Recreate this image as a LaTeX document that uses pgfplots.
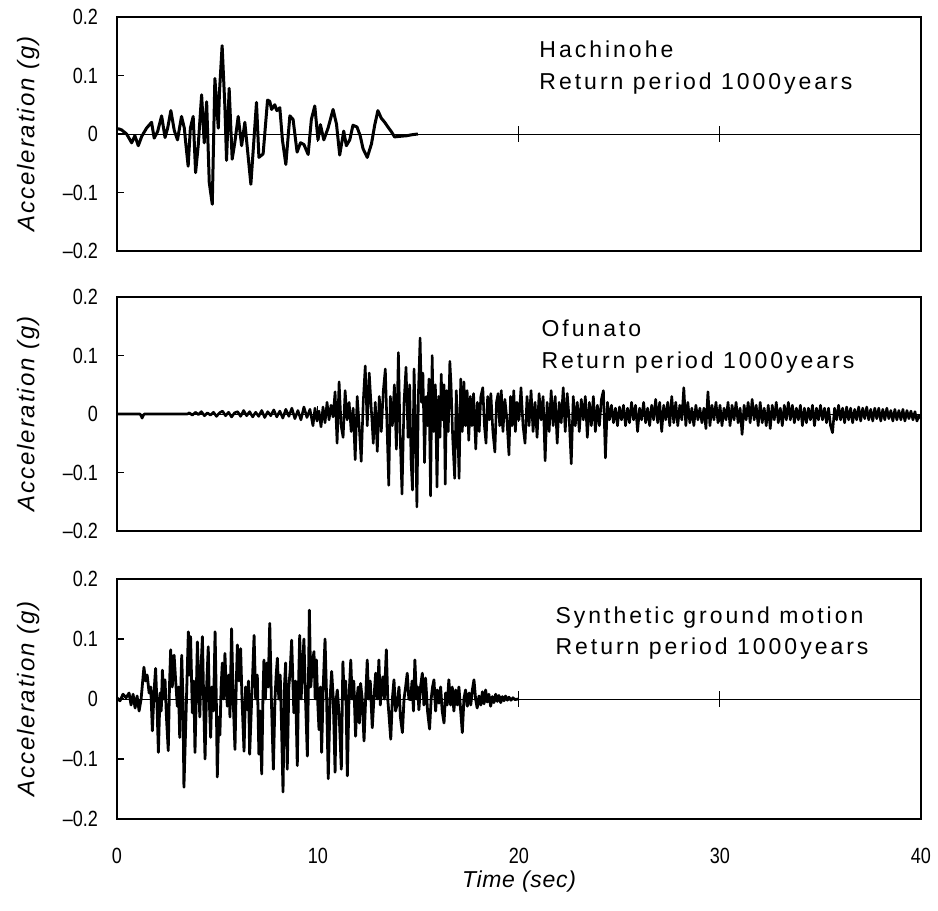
\documentclass[border=0pt]{standalone}
\usepackage{fontspec}
\setmainfont{Liberation Sans}
\newfontfamily\spaced[LetterSpace=13]{Liberation Sans}
\newfontfamily\labfont[LetterSpace=8]{Liberation Sans}
\newfontfamily\xlabfont[LetterSpace=3]{Liberation Sans}
\newfontfamily\narrow[FakeStretch=0.82]{Liberation Sans}
\usepackage{pgfplots}
\pgfplotsset{compat=1.18}
\tikzset{ann/.style={anchor=base west, inner sep=0pt, font=\spaced\fontsize{11.5}{13}\selectfont}}
\pgfplotsset{
  panel/.style={
    scale only axis, width=402pt, height=117pt,
    xmin=0, xmax=40, ymin=-0.2, ymax=0.2,
    axis line style={line width=0.8pt},
    ytick={-0.2,-0.1,0,0.1,0.2},
    yticklabels={–0.2,–0.1,0,0.1,0.2},
    ytick pos=left, tick align=inside, major tick length=3.5pt,
    ytick style={black, line width=0.6pt},
    xtick={0,10,20,30,40}, xtick style={draw=none},
    xticklabels={},
    yticklabel style={font=\narrow\fontsize{11}{13}\selectfont, xshift=-6pt},
    every axis y label/.style={at={(axis description cs:-0.1106,0.5)}, rotate=90, anchor=center,
      font=\labfont\fontsize{12}{14}\selectfont\itshape},
    ylabel={Acceleration (g)},
    clip=false,
  },
  zero/.style={black, line width=0.4pt},
  tk/.style={black, only marks, mark=|, mark size=4pt, mark options={line width=0.5pt}},
}
\begin{document}
\begin{tikzpicture}
% ---------------- Panel 1: Hachinohe
\begin{axis}[panel, at={(0,0)}, anchor=north west]
\addplot[zero] coordinates {(0,0) (40,0)};
\addplot[tk] coordinates {(10,0) (20,0) (30,0)};
\addplot[black, line width=1.5pt, line join=round] coordinates {
(0,0.008) (0.07,0.009) (0.23,0.007) (0.48,0) (0.73,-0.015) (0.89,-0.003) (1.06,-0.02) (1.23,-0.004) (1.47,0.01) (1.72,0.02) (1.85,-0.007) (2.02,0.004) (2.22,0.031) (2.39,-0.006) (2.52,0.01) (2.68,0.04) (2.85,0.006) (3.01,-0.01) (3.21,0.03) (3.35,0.01) (3.41,-0.012) (3.54,-0.055) (3.65,0.01) (3.79,0.03) (3.91,-0.066) (4.04,-0.02) (4.21,0.067) (4.34,-0.015) (4.46,0.055) (4.59,-0.083) (4.74,-0.12) (4.87,0.095) (4.97,0.045) (5.04,0.01) (5.10,0.073) (5.23,0.151) (5.37,0.045) (5.45,-0.045) (5.58,0.078) (5.73,-0.043) (5.86,-0.015) (6.03,0.03) (6.20,-0.02) (6.36,0.02) (6.66,-0.086) (6.94,0.054) (7.06,-0.04) (7.27,-0.034) (7.49,0.058) (7.60,0.056) (7.69,0.042) (7.85,0.05) (7.95,0.04) (8.10,0.045) (8.23,-0.01) (8.40,-0.052) (8.60,0.031) (8.76,0.025) (8.96,-0.031) (9.13,-0.015) (9.30,-0.018) (9.51,-0.035) (9.67,0.025) (9.84,0.048) (10.0,-0.01) (10.12,0.016) (10.29,-0.01) (10.5,0.01) (10.75,0.042) (10.92,0.017) (11.08,-0.036) (11.28,0.005) (11.41,-0.02) (11.58,-0.01) (11.74,0.015) (11.94,0.012) (12.1,-0.003) (12.24,-0.025) (12.45,-0.04) (12.66,-0.017) (12.82,0.015) (12.98,0.04) (13.15,0.027) (13.32,0.02) (13.48,0.012) (13.65,0.004) (13.81,-0.005) (14.06,-0.004) (14.4,-0.003) (14.72,-0.001) (14.97,0)
};
\node[ann] at (axis cs:21.0,0.13) {Hachinohe};
\node[ann] at (axis cs:21.0,0.0764) {Return period 1000years};
\end{axis}
% ---------------- Panel 2: Ofunato
\begin{axis}[panel, at={(0,-140pt)}, anchor=north west]
\addplot[zero] coordinates {(0,0) (40,0)};
\addplot[tk] coordinates {(10,0) (20,0) (30,0)};
\addplot[black, line width=1.3pt, line join=round] coordinates {
(0,0) (1.15,0) (1.25,-0.007) (1.35,0) (3.5,0)
(3.6,0.002) (3.75,-0.002) (3.9,0.003) (4.05,-0.001) (4.2,0.004) (4.35,-0.003) (4.5,0.002) (4.65,-0.002) (4.8,0.003) (4.95,-0.004) (5.1,0.002) (5.25,0.005) (5.4,-0.003) (5.55,0.003) (5.7,-0.005) (5.85,0.002) (6.0,0.004) (6.15,-0.004) (6.3,0.006) (6.45,-0.003) (6.6,0.004) (6.75,-0.005) (6.9,0.003) (7.05,-0.004) (7.2,0.006) (7.35,-0.006) (7.5,0.004) (7.65,-0.003) (7.8,0.007) (7.95,-0.005) (8.1,0.005) (8.25,-0.007) (8.4,0.008) (8.55,-0.004) (8.7,0.01) (8.85,-0.008) (9.0,0.006) (9.15,-0.01) (9.3,0.012) (9.45,-0.006) (9.6,0.008) (9.75,-0.02) (9.85,0.01) (9.95,-0.012)
(10.05,0.005) (10.15,-0.022) (10.25,0.012) (10.35,-0.015) (10.45,0.02) (10.55,-0.01) (10.65,0.015) (10.75,-0.005) (10.85,0.038) (10.95,-0.05) (11.05,0.055) (11.15,-0.02) (11.25,-0.04) (11.35,0.04) (11.45,-0.01) (11.55,0.02) (11.65,-0.03) (11.75,0.01) (11.85,-0.078) (11.95,0.03) (12.05,-0.02) (12.15,-0.081) (12.25,0.02) (12.35,0.082) (12.45,-0.02) (12.55,0.07) (12.65,0.01) (12.75,-0.05) (12.85,0.02) (12.95,-0.064) (13.05,0.03) (13.15,-0.03) (13.25,0.04) (13.35,0.077) (13.45,-0.04) (13.52,-0.122) (13.6,0.03) (13.7,-0.02) (13.8,0.05) (13.9,-0.06) (14.0,0.105) (14.08,-0.03) (14.18,-0.137) (14.28,0.02) (14.38,0.08) (14.48,-0.04) (14.56,0.05) (14.63,-0.08) (14.7,-0.13) (14.78,0.077) (14.85,-0.02) (14.92,-0.159) (15.0,0.04) (15.08,0.13) (15.15,0.02) (15.22,0.07) (15.3,-0.083) (15.38,0.03) (15.45,-0.02) (15.52,0.06) (15.6,-0.14) (15.68,0.1) (15.76,-0.03) (15.84,0.05) (15.92,-0.125) (16.0,0.03) (16.07,-0.04) (16.13,0.068) (16.2,-0.01) (16.27,0.05) (16.33,-0.12) (16.4,0.04) (16.48,-0.03) (16.56,0.09) (16.62,0.05) (16.7,-0.04) (16.8,-0.11) (16.88,0.04) (16.95,-0.02) (17.02,-0.11) (17.1,0.06) (17.18,-0.03) (17.26,0.055) (17.34,-0.02) (17.42,0.04) (17.5,-0.045) (17.58,0.03) (17.66,-0.02) (17.74,0.035) (17.85,-0.06) (17.93,0.02) (18.02,-0.03) (18.1,0.03) (18.2,0.045) (18.28,-0.02) (18.36,-0.05) (18.44,0.03) (18.52,-0.01) (18.6,0.035) (18.7,-0.03) (18.8,-0.065) (18.88,0.02) (18.96,0.035) (19.04,-0.02) (19.12,0.04) (19.2,-0.03) (19.3,0.025) (19.4,-0.01) (19.5,-0.07) (19.58,0.03) (19.66,-0.02) (19.74,0.04) (19.82,-0.03) (19.9,0.02)
(20.0,-0.01) (20.1,0.045) (20.2,-0.02) (20.3,-0.05) (20.4,0.03) (20.5,-0.02) (20.6,0.04) (20.7,-0.03) (20.8,0.02) (20.9,-0.04) (21.0,0.035) (21.1,-0.01) (21.2,0.03) (21.3,-0.08) (21.4,0.02) (21.5,-0.03) (21.6,0.04) (21.7,-0.02) (21.8,0.03) (21.9,-0.05) (22.0,0.02) (22.1,-0.015) (22.2,0.045) (22.3,-0.03) (22.4,0.035) (22.5,-0.01) (22.6,-0.085) (22.7,0.03) (22.8,-0.02) (22.9,0.02) (23.0,-0.03) (23.1,0.025) (23.2,-0.01) (23.3,0.03) (23.4,-0.04) (23.5,0.02) (23.6,-0.02) (23.7,0.03) (23.8,-0.03) (23.9,0.015) (24.0,-0.02) (24.1,0.025) (24.2,0.04) (24.3,-0.075) (24.4,0.02) (24.5,-0.01) (24.6,0.015) (24.7,-0.015) (24.8,0.01) (24.9,-0.02)
(25.0,0.012) (25.1,-0.01) (25.2,0.015) (25.3,-0.02) (25.4,0.01) (25.5,-0.015) (25.6,0.02) (25.7,-0.01) (25.8,0.015) (25.9,-0.03) (26.0,0.01) (26.1,-0.01) (26.2,0.02) (26.3,-0.015) (26.4,0.01) (26.5,-0.02) (26.6,0.015) (26.7,-0.01) (26.8,0.025) (26.9,-0.015) (27.0,0.02) (27.1,-0.03) (27.2,0.015) (27.3,-0.01) (27.4,0.02) (27.5,-0.02) (27.6,0.03) (27.7,-0.015) (27.8,0.02) (27.9,-0.02) (28.0,0.015) (28.1,-0.01) (28.2,0.045) (28.3,-0.02) (28.4,0.02) (28.5,-0.015) (28.6,0.01) (28.7,-0.02) (28.8,0.015) (28.9,-0.01) (29.0,0.01) (29.1,-0.015) (29.2,0.01) (29.3,-0.025) (29.4,0.038) (29.5,-0.02) (29.6,0.015) (29.7,-0.01) (29.8,0.02) (29.9,-0.015)
(30.0,0.015) (30.1,-0.02) (30.2,0.01) (30.3,-0.01) (30.4,0.02) (30.5,-0.02) (30.6,0.015) (30.7,-0.01) (30.8,0.02) (30.9,-0.015) (31.0,0.01) (31.1,-0.035) (31.2,0.015) (31.3,-0.01) (31.4,0.02) (31.5,-0.015) (31.6,0.025) (31.7,-0.01) (31.8,0.015) (31.9,-0.02) (32.0,0.02) (32.1,-0.015) (32.2,0.01) (32.3,-0.02) (32.4,0.015) (32.5,-0.025) (32.6,0.015) (32.7,-0.01) (32.8,0.02) (32.9,-0.015) (33.0,0.01) (33.1,-0.02) (33.2,0.015) (33.3,-0.01) (33.4,0.02) (33.5,-0.01) (33.6,0.015) (33.7,-0.015) (33.8,0.01) (33.9,-0.01) (34.0,0.015) (34.1,-0.02) (34.2,0.01) (34.3,-0.015) (34.4,0.01) (34.5,-0.01) (34.6,0.015) (34.7,-0.02) (34.8,0.01) (34.9,-0.01)
(35.0,0.015) (35.1,-0.01) (35.2,0.01) (35.3,-0.015) (35.4,0.01) (35.5,-0.02) (35.6,-0.032) (35.7,0.01) (35.8,-0.01) (35.9,0.015) (36.0,-0.01) (36.1,0.01) (36.2,-0.015) (36.3,0.012) (36.4,-0.01) (36.5,0.01) (36.6,-0.015) (36.7,0.008) (36.8,-0.01) (36.9,0.012) (37.0,-0.012) (37.1,0.01) (37.2,-0.008) (37.3,0.012) (37.4,-0.01) (37.5,0.008) (37.6,-0.012) (37.7,0.01) (37.8,-0.008) (37.9,0.01) (38.0,-0.012) (38.1,0.008) (38.2,-0.01) (38.3,0.01) (38.4,-0.008) (38.5,0.006) (38.6,-0.012) (38.7,0.008) (38.8,-0.01) (38.9,0.006) (39.0,-0.01) (39.1,0.008) (39.2,-0.012) (39.3,0.006) (39.4,-0.008) (39.5,0.005) (39.6,-0.01) (39.7,0.004) (39.8,-0.012) (39.9,-0.002) (40.0,-0.008)
};
\node[ann] at (axis cs:21.1,0.133) {Ofunato};
\node[ann] at (axis cs:21.1,0.0776) {Return period 1000years};
\end{axis}
% ---------------- Panel 3: Synthetic
\begin{axis}[panel, at={(0,-281pt)}, anchor=north west, height=120pt,
  xticklabels={0,10,20,30,40},
  xticklabel style={font=\narrow\fontsize{11}{13}\selectfont, yshift=-11pt},
  xlabel={Time (sec)},
  every axis x label/.style={at={(axis description cs:0.5,-0.26)}, anchor=center,
      font=\xlabfont\fontsize{11.5}{13}\selectfont\itshape}]
\addplot[zero] coordinates {(0,0) (40,0)};
\addplot[tk] coordinates {(10,0) (20,0) (30,0)};
\addplot[black, line width=1.4pt, line join=round] coordinates {
(0,0.002) (0.15,-0.003) (0.3,0.008) (0.45,0.002) (0.6,0.01) (0.7,-0.01) (0.8,0.008) (0.9,-0.015) (1.0,0.005) (1.1,-0.02) (1.2,0.0) (1.34,0.053) (1.42,0.03) (1.5,0.04) (1.6,0.01) (1.68,0.02) (1.76,-0.053) (1.84,0.01) (1.92,0.051) (1.99,-0.01) (2.06,-0.089) (2.14,0.01) (2.2,-0.02) (2.26,0.048) (2.32,0.0) (2.39,0.032) (2.46,-0.03) (2.55,-0.086) (2.61,0.02) (2.67,0.082) (2.75,0.02) (2.84,0.073) (2.92,0.03) (3.0,-0.012) (3.06,0.02) (3.12,-0.064) (3.17,0.01) (3.22,0.073) (3.28,0.0) (3.33,-0.147) (3.44,-0.02) (3.55,0.112) (3.6,0.04) (3.66,0.104) (3.75,-0.023) (3.82,0.03) (3.88,-0.089) (3.94,0.0) (4.0,0.095) (4.07,0.02) (4.12,-0.03) (4.18,0.05) (4.25,0.104) (4.31,0.0) (4.38,-0.1) (4.46,0.02) (4.54,0.087) (4.6,-0.01) (4.66,-0.064) (4.72,0.02) (4.8,-0.02) (4.88,0.112) (4.94,0.0) (4.99,-0.13) (5.06,-0.03) (5.12,-0.06) (5.18,0.02) (5.24,0.06) (5.3,0.0) (5.37,0.076) (5.43,0.02) (5.49,-0.012) (5.56,0.04) (5.62,-0.03) (5.7,0.117) (5.78,0.0) (5.87,-0.084) (5.93,0.02) (5.99,0.09) (6.07,0.03) (6.15,0.084) (6.22,0.0) (6.32,-0.087) (6.4,0.02) (6.48,-0.018) (6.54,0.03) (6.6,-0.092) (6.7,0.0) (6.76,0.05) (6.82,0.106) (6.9,0.0) (6.98,0.04) (7.06,-0.092) (7.12,-0.02) (7.2,-0.125) (7.26,0.0) (7.31,0.065) (7.38,0.0) (7.45,0.06) (7.52,0.02) (7.6,0.126) (7.68,0.0) (7.78,-0.117) (7.86,0.0) (7.92,0.04) (7.98,0.068) (8.05,0.0) (8.12,0.04) (8.19,-0.05) (8.26,-0.155) (8.33,0.02) (8.39,0.06) (8.47,-0.117) (8.55,0.02) (8.62,0.05) (8.69,0.098) (8.75,0.03) (8.8,-0.023) (8.88,0.03) (8.97,-0.111) (9.03,0.02) (9.09,0.106) (9.16,0.0) (9.23,0.05) (9.3,0.1) (9.38,0.0) (9.47,-0.095) (9.53,0.04) (9.57,0.148) (9.64,0.02) (9.72,0.06) (9.8,0.079) (9.86,0.0) (9.92,0.065) (9.98,0.0) (10.05,-0.051) (10.12,0.02) (10.18,-0.089) (10.26,0.02) (10.35,0.1) (10.43,0.0) (10.51,-0.133) (10.6,0.0) (10.68,0.046) (10.76,0.0) (10.85,-0.122) (10.91,0.0) (10.96,0.015) (11.06,-0.03) (11.16,-0.117) (11.24,0.062) (11.3,0.0) (11.38,0.03) (11.46,-0.128) (11.54,0.0) (11.63,0.065) (11.7,0.0) (11.78,0.03) (11.87,-0.062) (11.94,0.0) (12.0,0.02) (12.06,-0.04) (12.12,0.026) (12.2,0.0) (12.29,-0.07) (12.37,0.0) (12.45,0.065) (12.52,0.0) (12.6,0.03) (12.7,-0.048) (12.78,0.0) (12.87,0.043) (12.95,0.0) (13.03,0.065) (13.1,-0.01) (13.16,0.02) (13.23,0.037) (13.3,0.0) (13.4,0.082) (13.47,0.0) (13.54,-0.03) (13.62,-0.067) (13.7,0.0) (13.78,0.032) (13.86,-0.02) (13.95,-0.007) (14.03,0.02) (14.1,-0.03) (14.2,-0.056) (14.28,0.0) (14.36,0.02) (14.44,0.043) (14.52,0.0) (14.61,-0.001) (14.68,0.03) (14.75,-0.02) (14.82,0.065) (14.9,0.0) (14.96,0.02) (15.02,-0.018) (15.1,0.02) (15.19,0.043) (15.27,-0.01) (15.35,0.035) (15.45,-0.02) (15.55,-0.05) (15.63,0.0) (15.7,0.02) (15.77,0.032) (15.85,-0.02) (15.93,0.015) (16.02,-0.007) (16.1,0.02) (16.18,-0.02) (16.27,-0.04) (16.35,0.01) (16.43,-0.01) (16.51,0.032) (16.6,-0.01) (16.68,0.02) (16.76,-0.02) (16.85,0.015) (16.93,-0.01) (17.01,0.02) (17.1,-0.02) (17.18,-0.056) (17.26,0.0) (17.34,0.015) (17.43,-0.012) (17.52,0.01) (17.6,-0.01) (17.68,0.015) (17.76,0.032) (17.84,0.0) (17.92,-0.015) (18.01,0.005) (18.1,-0.01) (18.18,0.012) (18.26,-0.008) (18.34,0.015) (18.42,-0.005) (18.5,0.008) (18.59,-0.012) (18.67,0.004) (18.75,-0.006) (18.84,0.008) (18.92,-0.004) (19.0,0.006) (19.09,-0.006) (19.17,0.004) (19.25,-0.003) (19.33,0.005) (19.42,-0.002) (19.5,0.003) (19.6,-0.002) (19.7,0.002) (19.8,-0.001) (19.95,0.0)
};
\node[ann] at (axis cs:21.8,0.1255) {Synthetic ground motion};
\node[ann] at (axis cs:21.8,0.0737) {Return period 1000years};
\end{axis}
\pgfresetboundingbox
\path (-58.5pt,8.5pt) rectangle (410.5pt,-447pt);
\end{tikzpicture}
\end{document}
